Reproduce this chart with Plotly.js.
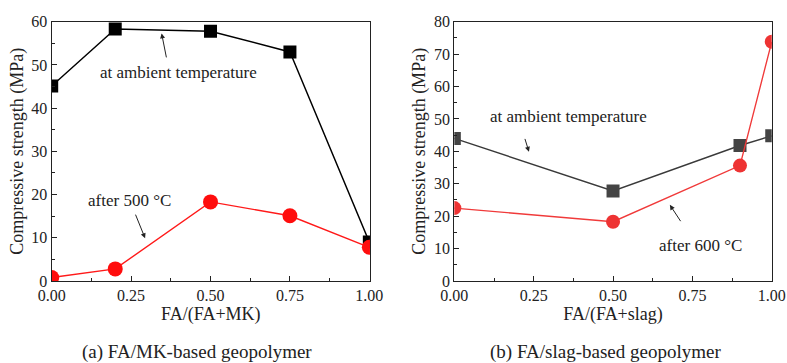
<!DOCTYPE html>
<html><head><meta charset="utf-8">
<script src="https://cdn.plot.ly/plotly-3.0.1.min.js"></script>
<style>body{margin:0;background:#fff}#c{width:787px;height:363px}</style>
</head><body><div id="c"></div>
<script>
// Panel (a) FA/MK-based
const xA = [0, 0.2, 0.5, 0.75, 1.0];
const ambientA = [45.1, 58.3, 57.8, 53.0, 9.0];
const heatedA = [0.8, 2.8, 18.3, 15.1, 7.8];
// Panel (b) FA/slag-based
const xB = [0, 0.5, 0.9, 1.0];
const ambientB = [44.0, 27.8, 41.8, 44.8];
const heatedB = [22.5, 18.3, 35.6, 73.8];
const xTicks = [0, 0.25, 0.5, 0.75, 1.0];
const xTickText = ['0.00', '0.25', '0.50', '0.75', '1.00'];

const F = 'Liberation Serif, DejaVu Serif, serif';
const traces = [
  {x: xA, y: ambientA, xaxis: 'x', yaxis: 'y', mode: 'lines+markers', line: {color: '#000', width: 1.4}, marker: {symbol: 'square', size: 13, color: '#000'}},
  {x: xA, y: heatedA, xaxis: 'x', yaxis: 'y', mode: 'lines+markers', line: {color: '#ff1a1a', width: 1.4}, marker: {symbol: 'circle', size: 15, color: '#ff0d0d'}},
  {x: xB, y: ambientB, xaxis: 'x2', yaxis: 'y2', mode: 'lines+markers', line: {color: '#3a3a3a', width: 1.4}, marker: {symbol: 'square', size: 13, color: '#444'}},
  {x: xB, y: heatedB, xaxis: 'x2', yaxis: 'y2', mode: 'lines+markers', line: {color: '#f03a3a', width: 1.4}, marker: {symbol: 'circle', size: 14, color: '#ee3333'}}
];
function xax(domain, title, range) {
  return {domain: domain, range: range, tickvals: xTicks, ticktext: xTickText, ticks: 'inside', ticklen: 5, tickcolor: '#222',
    minor: {dtick: 0.125, ticks: 'inside', ticklen: 3, tickcolor: '#222'},
    showline: true, mirror: true, linecolor: '#222', linewidth: 1.2, showgrid: false, zeroline: false,
    tickfont: {family: F, size: 16, color: '#222'},
    title: {text: title, font: {family: F, size: 18, color: '#222'}, standoff: 2}};
}
function yax(domain, range, dtick, anchor) {
  return {domain: domain, range: range, dtick: dtick, ticks: 'inside', ticklen: 5, tickcolor: '#222', anchor: anchor,
    minor: {dtick: 5, ticks: 'inside', ticklen: 3, tickcolor: '#222'},
    showline: true, mirror: true, linecolor: '#222', linewidth: 1.2, showgrid: false, zeroline: false,
    tickfont: {family: F, size: 16, color: '#222'},
    title: {text: 'Compressive strength (MPa)', font: {family: F, size: 18, color: '#222'}, standoff: 3}};
}
const yd = [0.2259, 0.9402];
const ann = (x, y, t, xr, yr) => ({x: x, y: y, text: t, xref: xr, yref: yr, xanchor: 'center', showarrow: false, font: {family: F, size: 17, color: '#222'}});
const arr = (x, y, ax, ay, xr, yr) => ({x: x, y: y, ax: ax, ay: ay, xref: xr, yref: yr, axref: xr, ayref: yr, text: '', showarrow: true, arrowhead: 2, arrowsize: 1, arrowwidth: 1, arrowcolor: '#222'});
const layout = {
  width: 787, height: 363, margin: {l: 0, r: 0, t: 0, b: 0}, showlegend: false,
  paper_bgcolor: '#fff', plot_bgcolor: '#fff',
  font: {family: F},
  xaxis: xax([0.0657, 0.4701], 'FA/(FA+MK)', [0, 1.002]),
  yaxis: yax(yd, [0, 60], 10, 'x'),
  xaxis2: xax([0.5773, 0.9806], 'FA/(FA+slag)', [0, 1.0]),
  yaxis2: yax(yd, [0, 80], 10, 'x2'),
  annotations: [
    ann(0.398, 48.2, 'at ambient temperature', 'x', 'y'),
    ann(0.245, 18.7, 'after 500 °C', 'x', 'y'),
    arr(0.346, 57.3, 0.362, 51.4, 'x', 'y'),
    arr(0.294, 9.9, 0.262, 15.7, 'x', 'y'),
    ann(0.359, 50.6, 'at ambient temperature', 'x2', 'y2'),
    ann(0.776, 11.1, 'after 600 °C', 'x2', 'y2'),
    arr(0.235, 39.9, 0.221, 44.3, 'x2', 'y2'),
    arr(0.679, 23.5, 0.716, 18.0, 'x2', 'y2'),
    {x: 197 / 787, y: 1 - 352 / 363, xref: 'paper', yref: 'paper', xanchor: 'center', yanchor: 'middle', text: '(a) FA/MK-based geopolymer', showarrow: false, font: {family: F, size: 19, color: '#222'}},
    {x: 605 / 787, y: 1 - 352 / 363, xref: 'paper', yref: 'paper', xanchor: 'center', yanchor: 'middle', text: '(b) FA/slag-based geopolymer', showarrow: false, font: {family: F, size: 19, color: '#222'}}
  ]
};
Plotly.newPlot('c', traces, layout, {staticPlot: true});
</script></body></html>
